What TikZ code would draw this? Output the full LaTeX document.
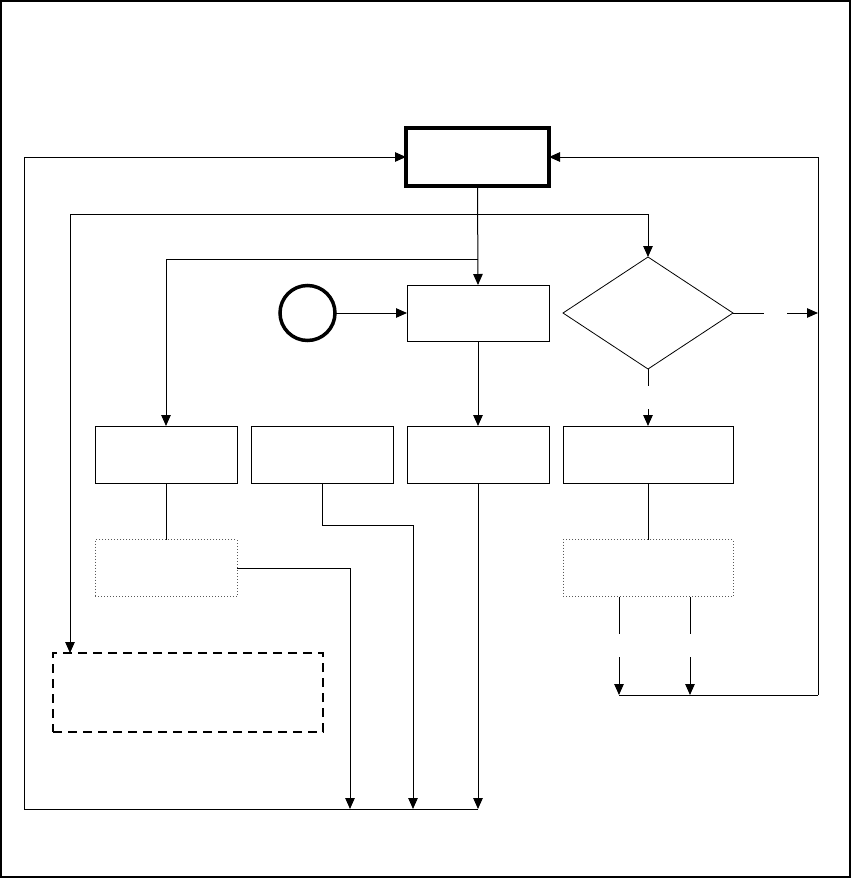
\documentclass[tikz,border=0pt]{standalone}
\usetikzlibrary{arrows.meta,shapes.geometric}
\begin{document}
\begin{tikzpicture}[x=1pt,y=-1pt,
  ln/.style={line width=1pt,black},
  arr/.style={ln,-{Triangle[length=11pt,width=9.5pt]}},
  boxstyle/.style={draw,line width=1pt,inner sep=0pt,outer sep=0pt,minimum width=142pt,minimum height=57pt},
  wideboxstyle/.style={boxstyle,minimum width=170pt},
  dotbox/.style={draw=gray!70!black,dotted,line width=1pt,inner sep=0pt,outer sep=0pt,minimum width=142pt,minimum height=57pt},
  dashbox/.style={draw,dash pattern=on 9pt off 6pt,line width=1.6pt,inner sep=0pt,outer sep=0pt,minimum width=270pt,minimum height=79pt},
  startbox/.style={draw,line width=3.5pt,inner sep=0pt,outer sep=0pt,minimum width=143pt,minimum height=58pt},
  circ/.style={draw,circle,line width=3.5pt,inner sep=0pt,outer sep=0pt,minimum size=55pt},
  dia/.style={draw,diamond,line width=0.8pt,inner sep=0pt,outer sep=0pt,minimum width=170pt,minimum height=112pt}]
\useasboundingbox (0,0) rectangle (852,879);
\draw[line width=1.4pt] (1,1) rectangle (850,877);

\node[startbox] (top) at (477.5,157) {};
\node[boxstyle,minimum height=56pt] (proc) at (478,313) {};
\node[circ] (start) at (307.5,313) {};
\node[dia] (dec) at (648,313) {};
\node[boxstyle] (b1) at (166,454.5) {};
\node[boxstyle] (b2) at (322,454.5) {};
\node[boxstyle] (b3) at (478,454.5) {};
\node[wideboxstyle] (b4) at (648,454.5) {};
\node[dotbox] (d1) at (166,568) {};
\node[dotbox,minimum width=170pt] (d2) at (648,568) {};
\node[dashbox] (db) at (188,692.5) {};

\coordinate (j1) at (478,214);
\coordinate (j2) at (478,259);

% main flow
\draw[arr] (top.south) -- (proc.north);
\draw[arr] (j1) -| (dec.north);
\draw[arr] (j1) -| ([xshift=17pt]db.north west);
\draw[arr] (j2) -| (b1.north);
\draw[arr] (start.east) -- (proc.west);
\draw[arr] (proc.south) -- (b3.north);

% decision outputs (broken)
\coordinate (dbA) at (648,386);
\coordinate (dbB) at (648,409);
\draw[ln] (dec.south) -- (dbA);
\draw[arr] (dbB) -- (b4.north);
\coordinate (drA) at (764,313);
\coordinate (drB) at (787,313);
\draw[ln] (dec.east) -- (drA);
\draw[arr] (drB) -- (818,313);

% right loop
\coordinate (rb) at (818,695);
\draw[arr] (rb) -- (818,157) -- (top.east);
\draw[ln] (619,695) -- (rb);
\draw[ln] (619,596.5) -- (619,634);
\draw[arr] (619,657) -- (619,695);
\draw[ln] (690,596.5) -- (690,634);
\draw[arr] (690,657) -- (690,695);

% lower branches
\draw[ln] (b1.south) -- (d1.north);
\draw[ln] (b4.south) -- (d2.north);
\coordinate (bl) at (478,809);
\draw[arr] (d1.east) -- (350,568) -- (350,809);
\draw[arr] (b2.south) -- (322,525) -- (413,525) -- (413,809);
\draw[arr] (b3.south) -- (bl);

% left loop
\draw[arr] (bl) -- (24,809) -- (24,157) -- (top.west);
\end{tikzpicture}
\end{document}
